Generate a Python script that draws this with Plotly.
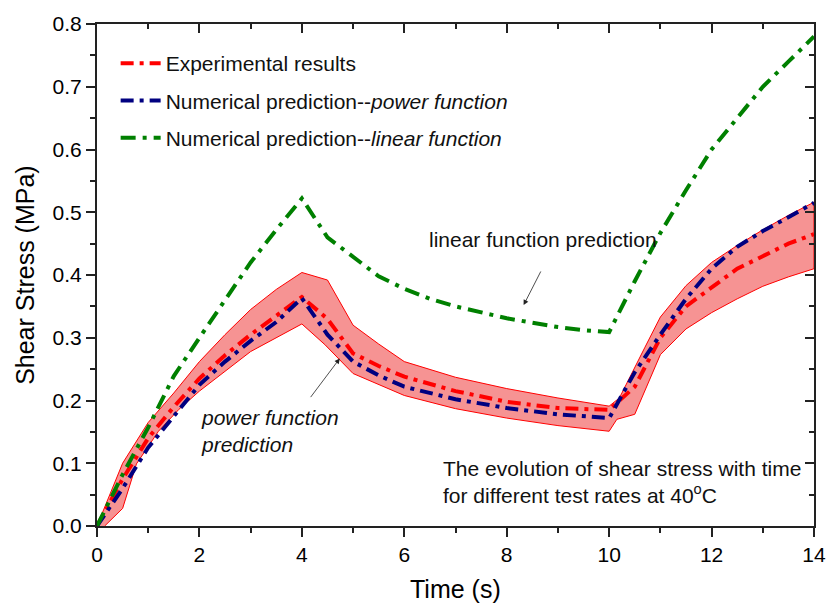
import plotly.graph_objects as go

# ---- data ----
t_exp = [0, 0.5, 1, 1.5, 2, 2.5, 3, 3.5, 4, 4.5, 5, 5.5, 6, 7, 8, 9, 10, 10.5, 11, 11.5, 12, 12.5, 13, 13.5, 14]
exp_vals = [0, 0.075, 0.14, 0.19, 0.235, 0.272, 0.305, 0.335, 0.365, 0.33, 0.275, 0.255, 0.238, 0.215, 0.198, 0.188, 0.185, 0.222, 0.30, 0.35, 0.38, 0.41, 0.43, 0.45, 0.465]

t_pow = [0, 0.5, 1, 1.5, 2, 2.5, 3, 3.5, 4, 4.5, 5, 5.5, 6, 7, 8, 9, 10, 10.5, 11, 11.5, 12, 12.5, 13, 13.5, 14]
pow_vals = [0, 0.06, 0.125, 0.175, 0.225, 0.262, 0.295, 0.325, 0.363, 0.305, 0.262, 0.24, 0.222, 0.202, 0.188, 0.178, 0.172, 0.245, 0.305, 0.362, 0.41, 0.445, 0.47, 0.492, 0.515]

t_lin = [0, 0.5, 1, 1.5, 2, 2.5, 3, 3.5, 4, 4.5, 5, 5.5, 6, 6.5, 7, 7.5, 8, 8.5, 9, 9.5, 10, 10.5, 11, 11.5, 12, 12.5, 13, 13.5, 14]
lin_vals = [0, 0.082, 0.157, 0.239, 0.30, 0.361, 0.42, 0.472, 0.522, 0.46, 0.428, 0.398, 0.378, 0.362, 0.35, 0.34, 0.331, 0.324, 0.317, 0.312, 0.309, 0.39, 0.467, 0.535, 0.60, 0.65, 0.70, 0.74, 0.78]

t_upper = [0, 0.5, 1, 1.5, 2, 2.5, 3, 3.5, 4, 4.5, 5, 5.5, 6, 7, 8, 9, 10, 10.2, 10.7, 11, 11.5, 12, 12.5, 13, 13.5, 14]
upper_vals = [0, 0.1, 0.165, 0.212, 0.262, 0.305, 0.345, 0.377, 0.404, 0.392, 0.32, 0.29, 0.262, 0.237, 0.219, 0.204, 0.191, 0.204, 0.285, 0.333, 0.383, 0.42, 0.447, 0.472, 0.495, 0.516]

t_lower = [0.15, 0.5, 0.77, 1.2, 1.6, 2, 3, 4, 4.45, 5, 6, 7, 8, 9, 10, 10.15, 10.5, 11, 11.5, 12, 12.5, 13, 13.5, 14]
lower_vals = [0, 0.028, 0.099, 0.151, 0.186, 0.215, 0.278, 0.322, 0.289, 0.243, 0.208, 0.187, 0.172, 0.160, 0.151, 0.170, 0.178, 0.273, 0.314, 0.34, 0.362, 0.382, 0.397, 0.41]

x_ticks = [0, 2, 4, 6, 8, 10, 12, 14]
y_ticks = [0.0, 0.1, 0.2, 0.3, 0.4, 0.5, 0.6, 0.7, 0.8]
y_ticklabels = ["0.0", "0.1", "0.2", "0.3", "0.4", "0.5", "0.6", "0.7", "0.8"]

FONT = "Arial, Liberation Sans, sans-serif"
TXT = 21

fig = go.Figure()

# band
fig.add_trace(go.Scatter(
    x=t_upper + t_lower[::-1], y=upper_vals + lower_vals[::-1],
    fill="toself", fillcolor="rgba(244,128,128,0.85)",
    line=dict(color="red", width=1), mode="lines",
    showlegend=False, hoverinfo="skip"))

fig.add_trace(go.Scatter(
    x=t_exp, y=exp_vals, mode="lines", name="Experimental results",
    line=dict(color="#FF0000", width=4, dash="13px,6px,4px,6px"), legendgroup="a"))
fig.add_trace(go.Scatter(
    x=t_pow, y=pow_vals, mode="lines", name="Numerical prediction--<i>power function</i>",
    line=dict(color="#000080", width=4, dash="13px,6px,4px,6px"), legendgroup="b"))
fig.add_trace(go.Scatter(
    x=t_lin, y=lin_vals, mode="lines", name="Numerical prediction--<i>linear function</i>",
    line=dict(color="#008000", width=4, dash="15px,7px,4px,7px"), legendgroup="c"))

# dummy trace for mirrored axes
fig.add_trace(go.Scatter(x=[0], y=[0], xaxis="x2", yaxis="y2", mode="markers",
                         marker=dict(opacity=0), showlegend=False, hoverinfo="skip"))

fig.add_annotation(x=6.45, y=0.457, text="linear function prediction", showarrow=False,
                   xanchor="left", yanchor="middle", font=dict(size=TXT, family=FONT, color="#111"))
fig.add_annotation(x=8.33, y=0.352, ax=8.68, ay=0.408, axref="x", ayref="y", text="",
                   showarrow=True, arrowhead=2, arrowsize=1.3, arrowwidth=0.8, arrowcolor="#222")
fig.add_annotation(x=2.0, y=0.152, text="<i>power function<br>prediction</i>", showarrow=False,
                   xanchor="left", yanchor="middle", align="left",
                   font=dict(size=TXT, family=FONT, color="#111"))
fig.add_annotation(x=4.74, y=0.267, ax=4.15, ay=0.203, axref="x", ayref="y", text="",
                   showarrow=True, arrowhead=2, arrowsize=1.3, arrowwidth=0.8, arrowcolor="#222")
fig.add_annotation(x=6.71, y=0.070, text="The evolution of shear stress with time<br>for different test rates at 40<sup>o</sup>C",
                   showarrow=False, xanchor="left", yanchor="middle", align="left",
                   font=dict(size=TXT, family=FONT, color="#111"))

# axis titles
fig.add_annotation(xref="paper", yref="paper", x=-0.1006, y=0.50, text="Shear Stress (MPa)",
                   textangle=-90, showarrow=False, xanchor="center", yanchor="middle",
                   font=dict(size=25, family=FONT, color="black"))
fig.add_annotation(xref="paper", yref="paper", x=0.5, y=-0.126, text="Time (s)",
                   showarrow=False, xanchor="center", yanchor="middle",
                   font=dict(size=25, family=FONT, color="black"))

fig.update_layout(
    width=838, height=611,
    margin=dict(l=97, r=15, t=19, b=85),
    paper_bgcolor="white", plot_bgcolor="white",
    font=dict(family=FONT, color="black"),
    showlegend=True,
    legend=dict(x=0.026, y=0.962, xanchor="left", yanchor="top",
                font=dict(size=TXT, family=FONT, color="#111"),
                bgcolor="rgba(0,0,0,0)", tracegroupgap=7, itemwidth=40),
    xaxis=dict(range=[0, 14], tickvals=x_ticks, ticks="outside", ticklen=9, tickwidth=1.5,
               tickcolor="#222", showline=True, linecolor="#222", linewidth=2,
               showgrid=False, zeroline=False, tickfont=dict(size=TXT, family=FONT),
               minor=dict(ticks="outside", ticklen=5, dtick=1, tickwidth=1.5, tickcolor="#222")),
    yaxis=dict(range=[0, 0.8], tickvals=y_ticks, ticktext=y_ticklabels, ticks="outside", ticklen=9,
               tickwidth=1.5, tickcolor="#222", showline=True, linecolor="#222", linewidth=2,
               showgrid=False, zeroline=False, tickfont=dict(size=TXT, family=FONT),
               minor=dict(ticks="outside", ticklen=5, dtick=0.05, tickwidth=1.5, tickcolor="#222")),
    xaxis2=dict(range=[0, 14], overlaying="x", side="top", anchor="y", tickvals=x_ticks, ticks="inside",
                ticklen=9, tickwidth=1.5, tickcolor="#222", showticklabels=False, showline=True,
                linecolor="#222", linewidth=2, showgrid=False, zeroline=False,
                minor=dict(ticks="inside", ticklen=5, dtick=1, tickwidth=1.5, tickcolor="#222")),
    yaxis2=dict(range=[0, 0.8], overlaying="y", side="right", anchor="x", tickvals=y_ticks, ticks="inside",
                ticklen=9, tickwidth=1.5, tickcolor="#222", showticklabels=False, showline=True,
                linecolor="#222", linewidth=2, showgrid=False, zeroline=False,
                minor=dict(ticks="inside", ticklen=5, dtick=0.05, tickwidth=1.5, tickcolor="#222")),
)

fig.write_html("out.html")
